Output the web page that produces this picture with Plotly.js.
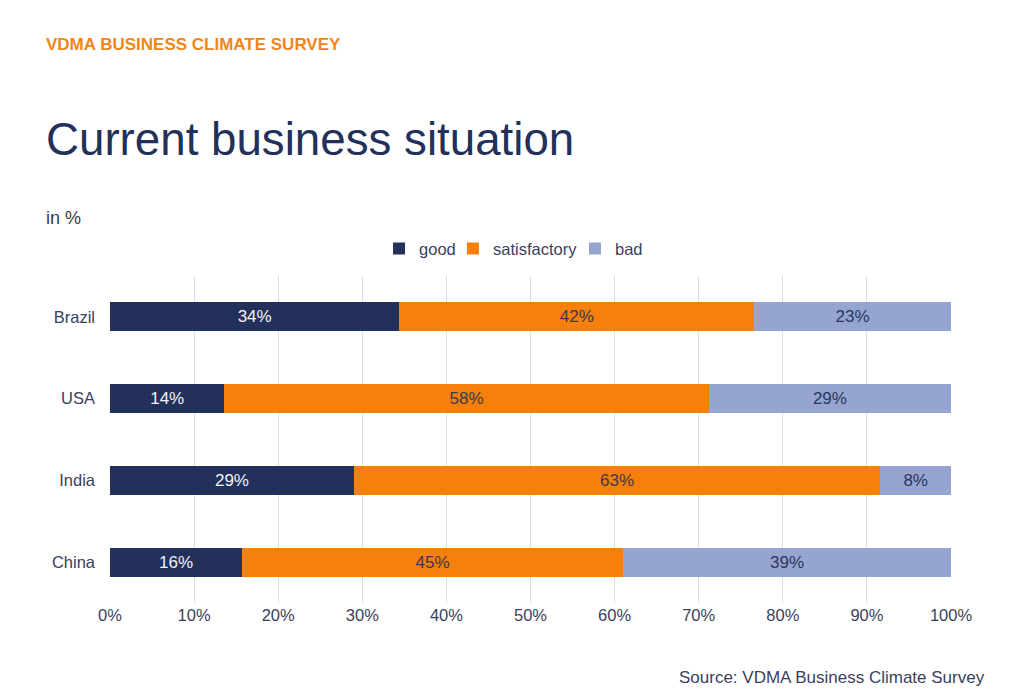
<!DOCTYPE html>
<html>
<head>
<meta charset="utf-8">
<script src="https://cdn.plot.ly/plotly-3.0.1.min.js"></script>
<style>
  html, body { margin: 0; padding: 0; background: #ffffff; }
  #chart { width: 1024px; height: 696px; }
</style>
</head>
<body>
<div id="chart"></div>
<script>
const countries = ['Brazil', 'USA', 'India', 'China'];
const good = [34.4, 13.6, 29.0, 15.7];
const satisfactory = [42.2, 57.6, 62.6, 45.3];
const bad = [23.4, 28.8, 8.4, 39.0];
const seriesNames = ['good', 'satisfactory', 'bad'];
const xTickVals = [0, 10, 20, 30, 40, 50, 60, 70, 80, 90, 100];
const xTickText = ['0%', '10%', '20%', '30%', '40%', '50%', '60%', '70%', '80%', '90%', '100%'];

const FONT = 'Liberation Sans, Arial, sans-serif';
const colors = ['#22305a', '#f77f0b', '#96a5cf'];
const textColors = ['#f2f2f5', '#3a3a4a', '#2b3560'];
const legendIds = ['legend', 'legend2', 'legend3'];
const legendX = [0.3199, 0.4078, 0.5529];
const values = [good, satisfactory, bad];

const traces = values.map((v, i) => ({
  type: 'bar',
  orientation: 'h',
  name: seriesNames[i],
  legend: legendIds[i],
  y: countries,
  x: v,
  marker: { color: colors[i], line: { width: 0 } },
  texttemplate: '%{x:.0f}%',
  textposition: 'inside',
  insidetextanchor: 'middle',
  constraintext: 'none',
  textfont: { family: FONT, size: 17, color: textColors[i] },
  hoverinfo: 'skip'
}));

function legendCfg(x) {
  return {
    orientation: 'h',
    x: x, xanchor: 'left',
    y: 1.083, yanchor: 'middle',
    font: { family: FONT, size: 16.5, color: '#3a3f5c' },
    itemwidth: 30,
    bgcolor: 'rgba(0,0,0,0)',
    borderwidth: 0
  };
}

const layout = {
  width: 1024,
  height: 696,
  paper_bgcolor: '#ffffff',
  plot_bgcolor: '#ffffff',
  barmode: 'stack',
  bargap: 0.645,
  margin: { l: 110, r: 73, t: 276, b: 93 },
  font: { family: FONT, color: '#3a3f5c' },
  showlegend: true,
  legend: legendCfg(legendX[0]),
  legend2: legendCfg(legendX[1]),
  legend3: legendCfg(legendX[2]),
  xaxis: {
    range: [0, 100],
    tickvals: xTickVals,
    ticktext: xTickText,
    showgrid: true,
    gridcolor: '#dcdce4',
    gridwidth: 1,
    zeroline: false,
    showline: false,
    ticks: '',
    tickfont: { family: FONT, size: 16.5, color: '#3a3f5c' },
    fixedrange: true
  },
  yaxis: {
    type: 'category',
    categoryorder: 'array',
    categoryarray: countries,
    autorange: 'reversed',
    showgrid: false,
    zeroline: false,
    showline: false,
    ticks: '',
    ticklabelstandoff: 14,
    tickfont: { family: FONT, size: 16.5, color: '#3a3f5c' },
    fixedrange: true
  },
  annotations: [
    {
      xref: 'paper', yref: 'paper', x: -0.0785, y: 1.0, xanchor: 'left', yanchor: 'middle',
      yshift: 232, text: '<b>VDMA BUSINESS CLIMATE SURVEY</b>', showarrow: false,
      font: { family: FONT, size: 17, color: '#f0861a' }
    },
    {
      xref: 'paper', yref: 'paper', x: -0.0785, y: 1.0, xanchor: 'left', yanchor: 'middle',
      yshift: 137, text: 'Current business situation', showarrow: false,
      font: { family: FONT, size: 45.7, color: '#22305a' }
    },
    {
      xref: 'paper', yref: 'paper', x: -0.0785, y: 1.0, xanchor: 'left', yanchor: 'middle',
      yshift: 58, text: 'in %', showarrow: false,
      font: { family: FONT, size: 18, color: '#3a3a4a' }
    },
    {
      xref: 'paper', yref: 'paper', x: 1.0, y: 0, xanchor: 'right', yanchor: 'middle',
      xshift: 36, yshift: -74, text: 'Source: VDMA Business Climate Survey', showarrow: false,
      font: { family: FONT, size: 17, color: '#3a3f5c' }
    }
  ]
};

Plotly.newPlot('chart', traces, layout, { staticPlot: true, displayModeBar: false });
</script>
</body>
</html>
